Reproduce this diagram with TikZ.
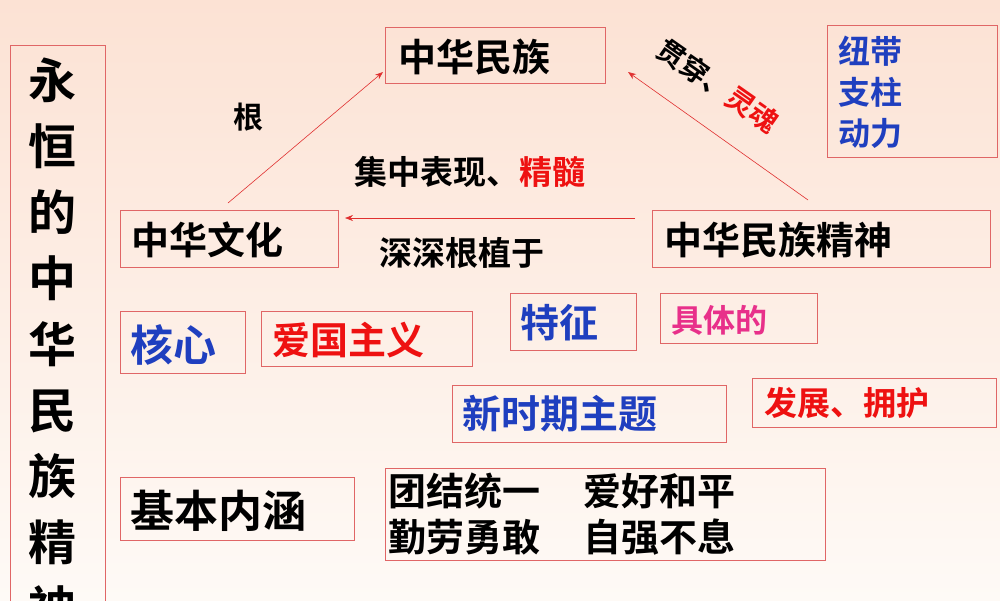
\documentclass[tikz,border=0pt]{standalone}
\usepackage{fontspec}
\usetikzlibrary{arrows.meta}
\newfontfamily\cjk[BoldFont={Noto Sans CJK SC Bold}]{Noto Sans CJK SC}
\definecolor{bx}{HTML}{E06666}
\definecolor{bl}{HTML}{1F3FBF}
\definecolor{rd}{HTML}{EE1111}
\definecolor{mg}{HTML}{E8308A}
\definecolor{ar}{HTML}{E03030}
\newcommand\fs[1]{\cjk\bfseries\fontsize{#1}{#1}\selectfont}
\begin{document}
\begin{tikzpicture}[x=1pt,y=-1pt,
  box/.style={draw=bx,line width=0.8pt},
  t/.style={font=\fs{38},inner sep=0pt},
  arr/.style={draw=ar,line width=0.6pt,-{Stealth[length=8pt,width=6pt]}}]
\shade[top color={rgb,255:red,252;green,226;blue,212},bottom color={rgb,255:red,254;green,250;blue,246}] (0,0) rectangle (1000,600);
\useasboundingbox (0,0) rectangle (1000,600);
\begin{scope}
\clip (0,0) rectangle (1000,600);
\draw[box] (10,45) rectangle (105,620);
\node[t,font=\cjk\bfseries\fontsize{48}{66}\selectfont,align=center,anchor=north] (title) at (52,58) {永\\恒\\的\\中\\华\\民\\族\\精\\神};
\end{scope}
\draw[box] (385,27) rectangle (605,83); \node[t,anchor=west] (mz) at (398,57) {中华民族};
\draw[box] (827,25) rectangle (997,157);
\node[t,text=bl,align=left,anchor=north west,font=\cjk\bfseries\fontsize{32}{41}\selectfont] (nd) at (838,36) {纽带\\支柱\\动力};
\draw[box] (120,210) rectangle (338,267); \node[t,anchor=west] (wh) at (131,240) {中华文化};
\draw[box] (652,210) rectangle (990,267); \node[t,anchor=west] (jsh) at (664,240) {中华民族精神};
\draw[box] (120,311) rectangle (245,373); \node[t,text=bl,anchor=west,font=\fs{43}] (hx) at (130,345) {核心};
\draw[box] (261,311) rectangle (472,366); \node[t,text=rd,anchor=west] (ag) at (272,340) {爱国主义};
\draw[box] (510,293) rectangle (636,350); \node[t,text=bl,anchor=west,font=\fs{39}] (tz) at (520,323) {特征};
\draw[box] (660,293) rectangle (817,343); \node[t,text=mg,anchor=west,font=\fs{32}] (jt) at (671,320) {具体的};
\draw[box] (452,385) rectangle (726,442); \node[t,text=bl,anchor=west,font=\fs{39}] (xs) at (462,414) {新时期主题};
\draw[box] (752,378) rectangle (996,427); \node[t,text=rd,anchor=west,font=\fs{33}] (fz) at (764,403) {发展、拥护};
\draw[box] (120,477) rectangle (354,540); \node[t,anchor=west,font=\fs{44}] (jb) at (130,511) {基本内涵};
\draw[box] (385,468) rectangle (825,560);
\node[t,anchor=west,align=left,font=\cjk\bfseries\fontsize{38}{46}\selectfont] (nh) at (388,514) {团结统一\hspace{43pt}爱好和平\\勤劳勇敢\hspace{43pt}自强不息};
\node[t,font=\fs{30}] (l1) at (248,117) {根};
\node[t,font=\fs{33}] (l2) at (470,172) {集中表现、\textcolor{rd}{精髓}};
\node[t,font=\fs{33}] (l3) at (462,253) {深深根植于};
\node[t,rotate=-35,font=\fs{28}] (l4) at (718,86) {贯穿、\textcolor{rd}{灵魂}};
\coordinate (a1) at (228,203); \coordinate (b1) at (383,72);
\coordinate (a2) at (635,218); \coordinate (b2) at (345,218);
\coordinate (a3) at (808,200); \coordinate (b3) at (628,72);
\draw[arr] (a1) -- (b1);
\draw[arr] (a2) -- (b2);
\draw[arr] (a3) -- (b3);
\end{tikzpicture}
\end{document}
